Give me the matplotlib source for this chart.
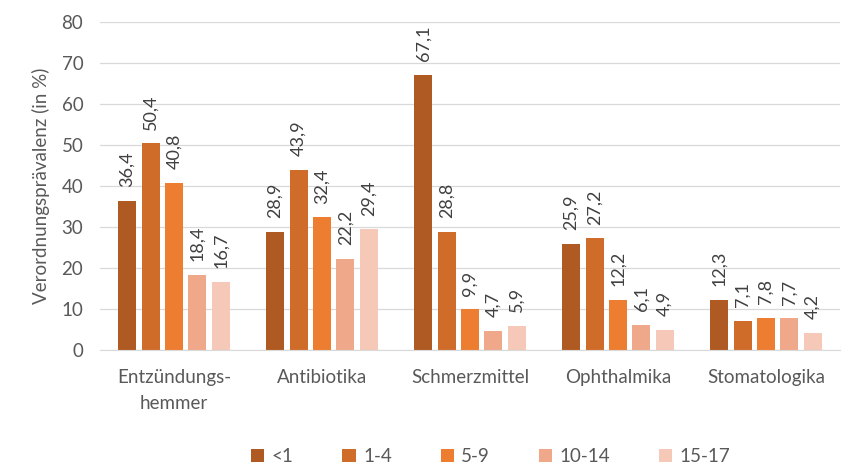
import numpy as np
import matplotlib
matplotlib.rcParams["font.family"] = ["Lato", "DejaVu Sans"]
import matplotlib.pyplot as plt
from matplotlib.patches import Patch

# Verordnungsprävalenz je Wirkstoffgruppe und Altersgruppe (in %)
categories = ["Entzündungs-\nhemmer", "Antibiotika", "Schmerzmittel",
              "Ophthalmika", "Stomatologika"]
age_groups = ["<1", "1-4", "5-9", "10-14", "15-17"]
val_lt1 = [36.4, 28.9, 67.1, 25.9, 12.3]
val_1_4 = [50.4, 43.9, 28.8, 27.2, 7.1]
val_5_9 = [40.8, 32.4, 9.9, 12.2, 7.8]
val_10_14 = [18.4, 22.2, 4.7, 6.1, 7.7]
val_15_17 = [16.7, 29.4, 5.9, 4.9, 4.2]

series = [val_lt1, val_1_4, val_5_9, val_10_14, val_15_17]
COLORS = ["#B05A23", "#D06C2A", "#ED7D31", "#F0A88A", "#F5C8B8"]
TEXT = "#595959"
FS = 13.5

fig = plt.figure(figsize=(8.46, 4.66), dpi=100)
ax = fig.add_axes([100 / 846, 116 / 466, 740 / 846, 328 / 466])

xs = np.arange(len(categories))
step = 0.158
width = 0.123
for i, (vals, col) in enumerate(zip(series, COLORS)):
    pos = xs + (i - 2) * step
    ax.bar(pos, vals, width=width, color=col, zorder=2)
    for x, v in zip(pos, vals):
        ax.text(x, v + 3.3, "{:.1f}".format(v).replace(".", ","),
                rotation=90, ha="center", va="bottom",
                fontsize=13, color="#404040")

ax.set_xlim(-0.5, len(categories) - 0.5)
ax.set_ylim(0, 80)
ax.set_yticks(range(0, 81, 10))
ax.set_xticks(xs)
ax.set_xticklabels(categories, fontsize=FS, color=TEXT, linespacing=1.6)
ax.tick_params(axis="y", labelsize=FS, colors=TEXT, length=0, pad=12)
ax.tick_params(axis="x", length=0, pad=14)
ax.set_ylabel("Verordnungsprävalenz (in %)", fontsize=FS, color=TEXT,
              labelpad=8)

for sp in ("top", "right", "left"):
    ax.spines[sp].set_visible(False)
ax.spines["bottom"].set_color("#D9D9D9")
ax.grid(axis="y", color="#D9D9D9", lw=0.9)
ax.set_axisbelow(True)

handles = [Patch(facecolor=c, label=l) for c, l in zip(COLORS, age_groups)]
fig.legend(handles=handles, loc="lower center", ncol=5, frameon=False,
           bbox_to_anchor=(0.58, -0.035), fontsize=FS, labelcolor=TEXT,
           handlelength=0.7, handleheight=0.7, handletextpad=0.4,
           columnspacing=2.6)

fig.savefig("out.png", dpi=100)
